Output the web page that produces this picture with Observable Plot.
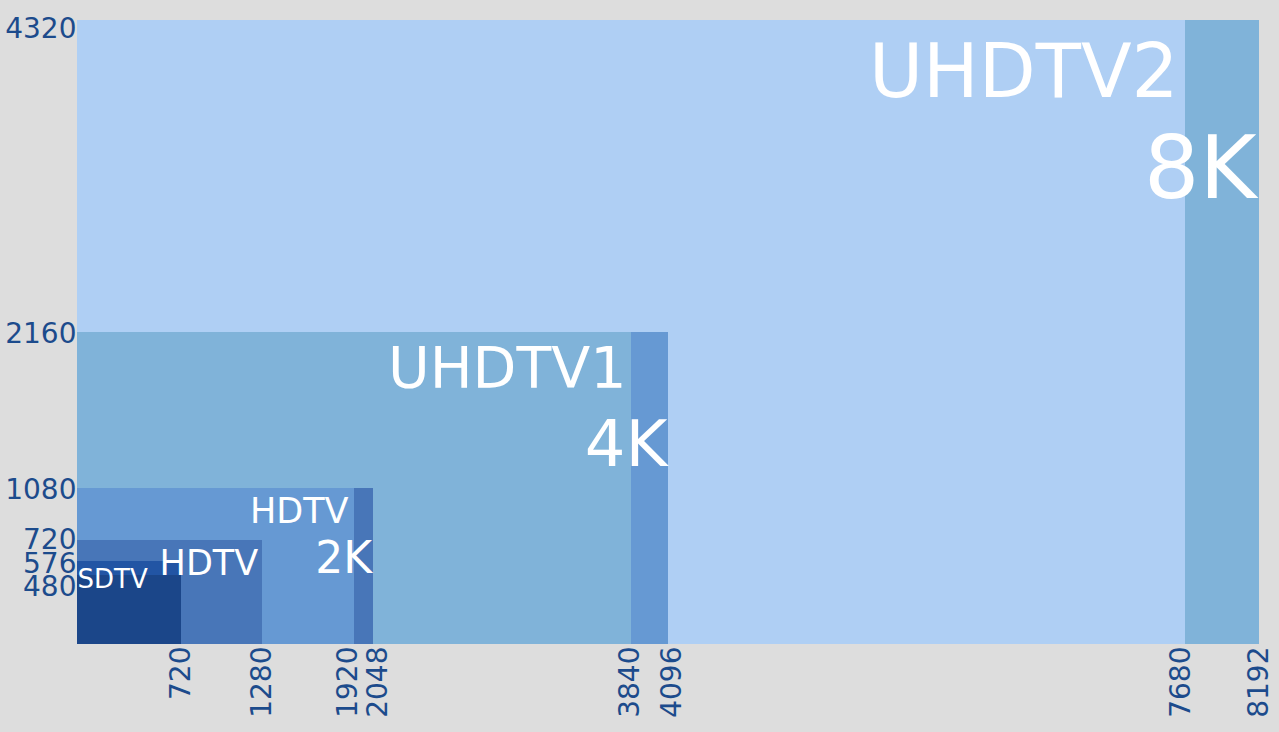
<!DOCTYPE html>
<html><head><meta charset="utf-8">
<script src="https://cdn.jsdelivr.net/npm/d3@7"></script>
<script src="https://cdn.jsdelivr.net/npm/@observablehq/plot@0.6"></script>
<style>
html,body{margin:0;padding:0;background:#dddddd;overflow:hidden;}
#chart svg{display:block;}
</style></head><body><div id="chart"></div>
<script>
// Resolution rectangles (drawn back to front)
const rectIds = ["8K", "UHDTV2", "4K", "UHDTV1", "2K", "HDTV 1080", "HDTV 720", "SDTV 576", "SDTV 480"];
const rectWidths = [8192, 7680, 4096, 3840, 2048, 1920, 1280, 720, 720];
const rectHeights = [4320, 4320, 2160, 2160, 1080, 1080, 720, 576, 480];

// Labels, anchored at rectangle corners
const labelTexts = ["UHDTV2", "8K", "UHDTV1", "4K", "HDTV", "2K", "HDTV", "SDTV"];
const labelX = [7680, 8192, 3840, 4096, 1920, 2048, 1280, 0];
const labelY = [4320, 4320, 2160, 2160, 1080, 1080, 720, 576];

// Tick values
const xTicks = [720, 1280, 1920, 2048, 3840, 4096, 7680, 8192];
const yTicks = [480, 576, 720, 1080, 2160, 4320];

// Styles
const rectColors = ["#80b3d9", "#afcff4", "#6699d3", "#80b3d9", "#4876b8", "#6699d3", "#4876b8", "#2255a4", "#1b4689"];
const labelStyles = [
  {fontSize: 74, textAnchor: "end", dx: -7, dy: 76},
  {fontSize: 87, textAnchor: "end", dx: -3, dy: 177},
  {fontSize: 57, textAnchor: "end", dx: -5, dy: 55},
  {fontSize: 64, textAnchor: "end", dx: -1, dy: 133},
  {fontSize: 35, textAnchor: "end", dx: -6, dy: 34},
  {fontSize: 44, textAnchor: "end", dx: -1, dy: 84},
  {fontSize: 35, textAnchor: "end", dx: -4, dy: 34},
  {fontSize: 26, textAnchor: "start", dx: 0, dy: 27}
];
// label nudges to avoid overlaps (pixels)
const xTickNudge = {1920: -7, 2048: 5, 3840: -2, 4096: 4, 7680: -5};
const yTickNudge = {4320: 9, 2160: 2, 1080: 2, 576: 3, 480: 12};

const rects = rectIds.map((id, i) => ({id, w: rectWidths[i], h: rectHeights[i], color: rectColors[i]}));
const labels = labelTexts.map((t, i) => ({t, x: labelX[i], y: labelY[i]}));

const marks = [
  Plot.rect(rects, {x1: 0, x2: "w", y1: 0, y2: "h", fill: "color", shapeRendering: "crispEdges"})
];
labels.forEach((d, i) => {
  const s = labelStyles[i];
  marks.push(Plot.text([d], {
    x: "x", y: "y", text: "t", fill: "white",
    fontSize: s.fontSize, textAnchor: s.textAnchor, dx: s.dx, dy: s.dy,
    lineAnchor: "bottom", fontFamily: "DejaVu Sans"
  }));
});

const chart = Plot.plot({
  width: 1279,
  height: 732,
  marginLeft: 77,
  marginRight: 20,
  marginTop: 20,
  marginBottom: 88,
  style: {background: "transparent", fontFamily: "DejaVu Sans", fontSize: "28px", color: "#1c4b8c"},
  x: {domain: [0, 8192], ticks: xTicks, tickFormat: d => String(d), tickRotate: -90, tickSize: 0, tickPadding: 2, label: null},
  y: {domain: [0, 4320], ticks: yTicks, tickFormat: d => String(d), tickSize: 0, tickPadding: 1, label: null},
  marks
});
document.getElementById("chart").appendChild(chart);

// nudge overlapping tick labels
d3.select(chart).selectAll("text").each(function() {
  const txt = this.textContent;
  const grp = this.closest("[aria-label]");
  const lab = grp ? grp.getAttribute("aria-label") : "";
  let dx = 0, dy = 0;
  if (lab.startsWith("x-axis") && xTickNudge[txt] !== undefined) dx = xTickNudge[txt];
  else if (lab.startsWith("y-axis") && yTickNudge[txt] !== undefined) dy = yTickNudge[txt];
  else return;
  const t = this.getAttribute("transform") || "";
  this.setAttribute("transform", `translate(${dx},${dy}) ${t}`);
});
</script>
</body></html>
